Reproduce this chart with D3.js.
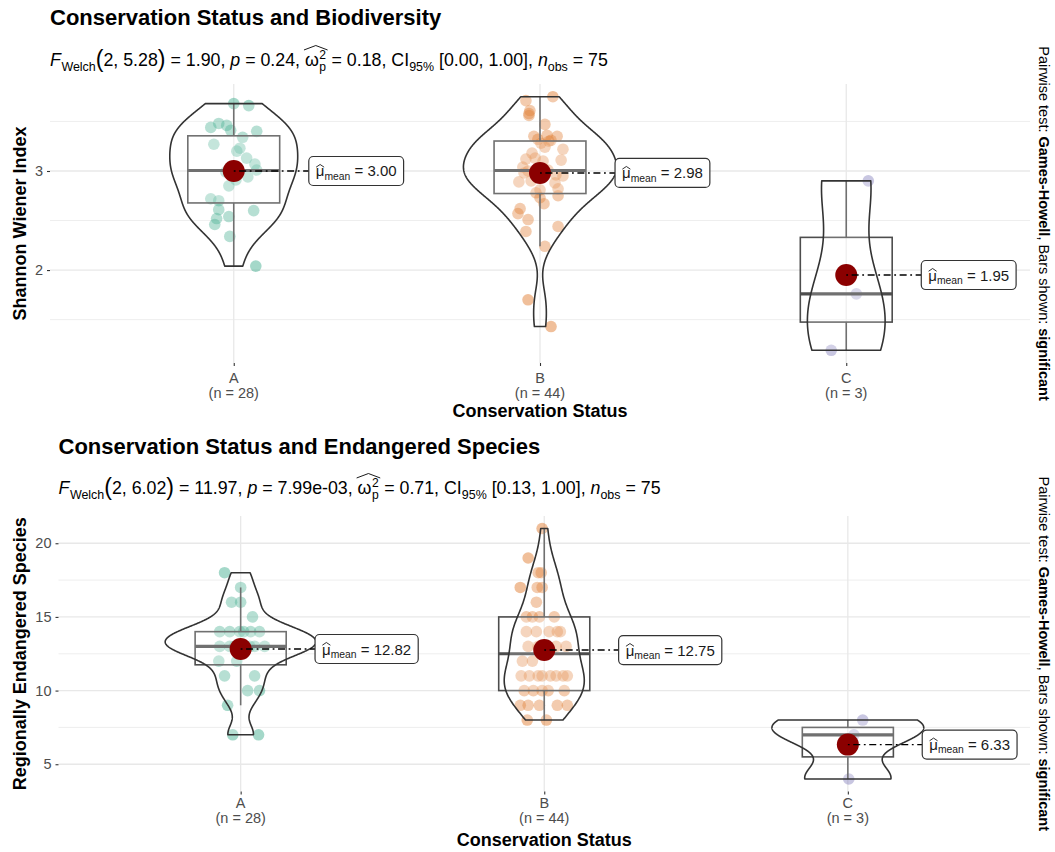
<!DOCTYPE html>
<html>
<head>
<meta charset="utf-8">
<script src="https://cdn.jsdelivr.net/npm/d3@7"></script>
<style>
  body { margin: 0; background: #fff; }
  svg { display: block; }
  text { font-family: "Liberation Sans", Arial, Helvetica, sans-serif; }
</style>
</head>
<body>
<svg id="chart" width="1055" height="852"></svg>
<script>
// ---------------------------------------------------------------------------
// Data
// ---------------------------------------------------------------------------
const categories = ["A", "B", "C"];
const groupSizes = [28, 44, 3];
const groupColors = ["#1B9E77", "#D95F02", "#7570B3"];

// Shannon Wiener index per site, by conservation status
const shannonA = [3.68, 3.66, 3.44, 3.48, 3.46, 3.40, 3.34, 3.27, 3.23, 3.13, 3.07, 3.01, 2.94, 2.91,
                  2.85, 2.72, 2.70, 2.61, 2.54, 2.52, 2.46, 2.60, 2.34, 2.04, 3.00, 2.99, 3.20, 3.41];
const shannonB = [3.71, 3.75, 3.58, 3.61, 3.56, 3.47, 3.35, 3.36, 3.35, 3.31, 3.28, 3.22, 3.24, 3.12,
                  3.11, 3.13, 3.04, 2.96, 2.95, 2.89, 2.90, 2.88, 2.82, 2.75, 2.81, 2.73, 2.67, 2.62,
                  2.57, 2.51, 2.39, 2.44, 2.24, 1.70, 1.43, 3.00, 3.01, 3.00, 2.98, 3.18, 3.30, 3.10,
                  2.78, 3.32];
const shannonC = [2.90, 1.76, 1.19];

// Regionally endangered species per site, by conservation status
const endangeredA = [18, 17, 16, 16, 15, 14, 14, 14, 14, 14, 13, 13, 13, 12, 12, 11, 11, 10, 10, 9,
                     7, 7, 13, 13, 14, 13, 13, 13];
const endangeredB = [21, 19, 18, 18, 17, 17, 17, 16, 15, 15, 14, 14, 14, 14, 13, 12, 12, 11, 11, 11,
                     11, 11, 10, 10, 9, 9, 9, 9, 9, 8, 8, 10, 10, 10, 11, 11, 11, 13, 13, 13, 13,
                     14, 15, 15];
const endangeredC = [8, 7, 4];

// Horizontal jitter of each observation, in category units
const shannonJitterA = [0, 0.049, -0.075, -0.049, -0.023, 0.075, 0.029, -0.065, 0.020, 0.042, 0.069,
                        0.075, 0.046, 0.007, -0.016, -0.075, -0.049, -0.049, -0.016, -0.056, -0.062,
                        0.065, -0.013, 0.072, 0.016, -0.026, 0.010, -0.010];
const shannonJitterB = [-0.046, 0.042, -0.036, -0.033, -0.036, 0.016, -0.020, 0.023, 0.056, 0.036,
                        0.003, 0.075, 0.016, -0.046, 0.069, -0.016, -0.056, 0.052, 0.075, -0.069,
                        -0.029, 0.049, 0.059, 0.059, 0, 0, 0.013, -0.065, -0.072, -0.039, -0.046,
                        0.059, 0.016, -0.039, 0.036, -0.010, 0.026, -0.039, -0.052, -0.026, 0.029,
                        0.010, -0.013, -0.007];
const shannonJitterC = [0.072, 0.033, -0.049];
const endangeredJitterA = [-0.053, 0, -0.030, 0, 0.039, -0.069, -0.036, -0.003, 0.033, 0.062, -0.069,
                           -0.036, 0.079, -0.072, -0.013, -0.053, 0.046, 0.023, 0.062, -0.043, -0.026,
                           0.059, 0.016, -0.010, 0.010, 0.046, -0.020, 0.030];
const endangeredJitterB = [-0.007, -0.053, -0.020, -0.010, -0.079, -0.023, -0.007, -0.026, -0.059,
                           -0.016, -0.059, -0.026, 0.043, 0.053, -0.053, -0.072, -0.039, -0.076,
                           -0.049, -0.020, 0.062, 0.076, -0.036, 0.013, -0.079, -0.053, -0.016, 0.043,
                           0.076, -0.056, 0.007, 0.066, -0.066, -0.007, 0.020, -0.007, 0.039, 0.007,
                           0.039, -0.020, 0.072, 0.016, 0.033, -0.039];
const endangeredJitterC = [0.049, 0.020, 0.003];

// Axis ticks
const shannonTicks = [2, 3];
const shannonMinorTicks = [1.5, 2.5, 3.5];
const endangeredTicks = [5, 10, 15, 20];
const endangeredMinorTicks = [7.5, 12.5, 17.5];

// Welch ANOVA results shown in the subtitles: [df1, df2, F, p, omega², CI low, CI high, n]
const shannonWelch = ["2", "5.28", "1.90", "0.24", "0.18", "0.00", "1.00", "75"];
const endangeredWelch = ["2", "6.02", "11.97", "7.99e-03", "0.71", "0.13", "1.00", "75"];

// ---------------------------------------------------------------------------
// Helpers
// ---------------------------------------------------------------------------
const svg = d3.select("#chart");
const NBSP = "\u00A0";

function boxStats(vals) {
  const s = vals.slice().sort(d3.ascending);
  const q1 = d3.quantileSorted(s, 0.25);
  const med = d3.quantileSorted(s, 0.5);
  const q3 = d3.quantileSorted(s, 0.75);
  const iqr = q3 - q1;
  const lo = d3.min(s.filter(v => v >= q1 - 1.5 * iqr));
  const hi = d3.max(s.filter(v => v <= q3 + 1.5 * iqr));
  return { q1, med, q3, lo, hi };
}

// Silverman's rule of thumb (R's bw.nrd0)
function bwNrd0(vals) {
  const s = vals.slice().sort(d3.ascending);
  const sd = d3.deviation(s);
  const iqr = d3.quantileSorted(s, 0.75) - d3.quantileSorted(s, 0.25);
  let lo = Math.min(sd, iqr / 1.34);
  if (!(lo > 0)) lo = sd || Math.abs(s[0]) || 1;
  return 0.9 * lo * Math.pow(s.length, -0.2);
}

// Gaussian kernel density, trimmed to the data range
function density(vals, n = 400) {
  const bw = bwNrd0(vals);
  const [lo, hi] = d3.extent(vals);
  const k = 1 / (vals.length * bw * Math.sqrt(2 * Math.PI));
  return d3.range(n).map(i => {
    const y = lo + (hi - lo) * i / (n - 1);
    let d = 0;
    for (const v of vals) { const z = (y - v) / bw; d += Math.exp(-0.5 * z * z); }
    return [y, d * k];
  });
}

// Lays out a run of text pieces left to right (italic, sub/superscripts, hats)
function richText(g, x, y, parts, size, color) {
  let cx = x;
  let hatX = null;
  parts.forEach(p => {
    if (p.hatStart) { hatX = cx; return; }
    if (p.hatEnd) {
      const h = p.hat;
      const x0 = hatX + h.inset, x1 = cx - h.inset;
      g.append("path")
        .attr("d", `M${x0},${y - h.base * size} L${(x0 + x1) / 2},${y - h.apex * size} L${x1},${y - h.base * size}`)
        .attr("fill", "none").attr("stroke", color).attr("stroke-width", 0.9);
      return;
    }
    if (p.stack) {
      const fs = size * 0.68;
      const a = g.append("text").attr("x", cx + 0.5).attr("y", y - size * 0.42)
        .attr("font-size", fs).attr("fill", color).text(p.stack[0]);
      const b = g.append("text").attr("x", cx + 0.5).attr("y", y + size * 0.3)
        .attr("font-size", fs).attr("fill", color).text(p.stack[1]);
      cx += Math.max(a.node().getComputedTextLength(), b.node().getComputedTextLength()) + 1;
      return;
    }
    const fs = size * (p.scale || 1);
    const t = g.append("text")
      .attr("x", cx).attr("y", y + (p.dy || 0) * size)
      .attr("font-size", fs)
      .attr("font-style", p.italic ? "italic" : null)
      .attr("font-weight", p.bold ? "bold" : null)
      .attr("fill", color)
      .text(p.t.replace(/ /g, NBSP));
    cx += t.node().getComputedTextLength() + (p.after || 0);
  });
  return cx - x;
}

function welchParts(w) {
  const omegaHat = { base: 0.9, apex: 1.15, inset: -1 };
  return [
    { t: "F", italic: true, after: 0.5 },
    { t: "Welch", scale: 0.7, dy: 0.3 },
    { t: "(", scale: 1.3, dy: 0.07 },
    { t: `${w[0]}, ${w[1]}` },
    { t: ")", scale: 1.3, dy: 0.07 },
    { t: ` = ${w[2]}, ` },
    { t: "p", italic: true },
    { t: ` = ${w[3]}, ` },
    { hatStart: true },
    { t: "\u03C9" },
    { stack: ["2", "p"] },
    { hatEnd: true, hat: omegaHat },
    { t: ` = ${w[4]}, CI` },
    { t: "95%", scale: 0.7, dy: 0.3 },
    { t: ` [${w[5]}, ${w[6]}], ` },
    { t: "n", italic: true },
    { t: "obs", scale: 0.7, dy: 0.3 },
    { t: ` = ${w[7]}` }
  ];
}

// ---------------------------------------------------------------------------
// One ggbetweenstats-style panel
// ---------------------------------------------------------------------------
function drawPanel(cfg) {
  const { frame, groups, jitters } = cfg;
  const g = svg.append("g");

  const x = d3.scalePoint().domain(categories).range([frame.x0, frame.x1]).padding(0.6);
  const step = x.step();
  const all = groups.flat();
  const [mn, mx] = d3.extent(all);
  const pad = (mx - mn) * 0.05;
  const y = d3.scaleLinear().domain([mn - pad, mx + pad]).range([frame.y1, frame.y0]);

  // Grid
  const grid = g.append("g");
  grid.selectAll(".minor").data(cfg.minorTicks).join("line")
    .attr("x1", frame.x0).attr("x2", frame.x1)
    .attr("y1", d => y(d)).attr("y2", d => y(d))
    .attr("stroke", "#ececec").attr("stroke-width", 0.9);
  grid.selectAll(".major").data(cfg.ticks).join("line")
    .attr("x1", frame.x0).attr("x2", frame.x1)
    .attr("y1", d => y(d)).attr("y2", d => y(d))
    .attr("stroke", "#e8e8e8").attr("stroke-width", 1.3);
  grid.selectAll(".vmajor").data(categories).join("line")
    .attr("x1", d => x(d)).attr("x2", d => x(d))
    .attr("y1", frame.y0).attr("y2", frame.y1)
    .attr("stroke", "#e8e8e8").attr("stroke-width", 1.3);

  // Y axis
  const yAxis = g.append("g").attr("transform", `translate(${frame.x0},0)`)
    .call(d3.axisLeft(y).tickValues(cfg.ticks).tickSize(3).tickPadding(4).tickFormat(d3.format("d")));
  yAxis.select(".domain").remove();
  yAxis.selectAll("line").attr("stroke", "#333").attr("stroke-width", 1.1);
  yAxis.selectAll("text").attr("font-size", 14.5).attr("fill", "#4d4d4d")
    .attr("font-family", '"Liberation Sans", Arial, sans-serif');

  // X axis with group sizes
  const xAxis = g.append("g").attr("transform", `translate(0,${frame.y1})`)
    .call(d3.axisBottom(x).tickSize(3).tickFormat(""));
  xAxis.select(".domain").remove();
  xAxis.selectAll("line").attr("stroke", "#333").attr("stroke-width", 1.1);
  const xl = g.append("g");
  categories.forEach((c, i) => {
    xl.append("text").attr("x", x(c)).attr("y", frame.y1 + cfg.tickLabelY[0]).attr("text-anchor", "middle")
      .attr("font-size", 14.5).attr("fill", "#4d4d4d").text(c);
    xl.append("text").attr("x", x(c)).attr("y", frame.y1 + cfg.tickLabelY[1]).attr("text-anchor", "middle")
      .attr("font-size", 14.5).attr("fill", "#4d4d4d").text(`(n = ${groupSizes[i]})`);
  });

  // Axis titles
  g.append("text").attr("x", (frame.x0 + frame.x1) / 2).attr("y", frame.y1 + 54)
    .attr("text-anchor", "middle").attr("font-size", 18).attr("font-weight", "bold")
    .text("Conservation Status");
  g.append("text")
    .attr("transform", `translate(26,${(frame.y0 + frame.y1) / 2}) rotate(-90)`)
    .attr("text-anchor", "middle").attr("font-size", 18).attr("font-weight", "bold")
    .text(cfg.yTitle);

  // Title and subtitle
  g.append("text").attr("x", frame.x0).attr("y", cfg.titleY)
    .attr("font-size", 22).attr("font-weight", "bold").text(cfg.title);
  richText(g.append("g"), frame.x0, cfg.subtitleY, welchParts(cfg.welch), 17.8, "#000");

  // Pairwise caption on the right
  const cap = g.append("text")
    .attr("transform", `translate(1039,${(frame.y0 + frame.y1) / 2}) rotate(90)`)
    .attr("text-anchor", "middle").attr("font-size", 14.5);
  cap.append("tspan").text("Pairwise test: ");
  cap.append("tspan").attr("font-weight", "bold").text("Games-Howell");
  cap.append("tspan").text(", Bars shown: ");
  cap.append("tspan").attr("font-weight", "bold").text("significant");

  // Jittered observations
  const pts = g.append("g");
  groups.forEach((vals, gi) => {
    const cx = x(categories[gi]);
    pts.selectAll(null).data(vals.map((v, i) => [v, jitters[gi][i]])).join("circle")
      .attr("cx", d => cx + d[1] * step)
      .attr("cy", d => y(d[0]))
      .attr("r", 5.8)
      .attr("fill", groupColors[gi])
      .attr("fill-opacity", 0.4);
  });

  // Boxplots
  const bw = 0.3 * step;
  const boxes = g.append("g");
  groups.forEach((vals, gi) => {
    const cx = x(categories[gi]);
    const s = boxStats(vals);
    const b = boxes.append("g").attr("stroke", "#4d4d4d").attr("fill", "none");
    b.append("line").attr("x1", cx).attr("x2", cx).attr("y1", y(s.hi)).attr("y2", y(s.q3)).attr("stroke-width", 1.6);
    b.append("line").attr("x1", cx).attr("x2", cx).attr("y1", y(s.q1)).attr("y2", y(s.lo)).attr("stroke-width", 1.6);
    b.append("rect").attr("x", cx - bw / 2).attr("width", bw)
      .attr("y", y(s.q3)).attr("height", y(s.q1) - y(s.q3))
      .attr("fill", "#fff").attr("fill-opacity", 0.2).attr("stroke-width", 1.6);
    b.append("line").attr("x1", cx - bw / 2).attr("x2", cx + bw / 2)
      .attr("y1", y(s.med)).attr("y2", y(s.med)).attr("stroke-width", 3.2);
  });

  // Violins (area-scaled across the panel)
  const dens = groups.map(v => density(v));
  const maxD = d3.max(dens.flat(), d => d[1]);
  const hw = 0.25 * step;
  const vio = g.append("g");
  dens.forEach((dd, gi) => {
    const cx = x(categories[gi]);
    const area = d3.area()
      .x0(d => cx - hw * d[1] / maxD)
      .x1(d => cx + hw * d[1] / maxD)
      .y(d => y(d[0]));
    vio.append("path").attr("d", area(dd))
      .attr("fill", "#fff").attr("fill-opacity", 0.2)
      .attr("stroke", "#333").attr("stroke-width", 1.6).attr("stroke-linejoin", "round");
  });

  // Means with labels
  const means = g.append("g");
  groups.forEach((vals, gi) => {
    const cx = x(categories[gi]);
    const m = d3.mean(vals);
    const my = y(m);
    const lx = cx + 0.245 * step;
    means.append("circle").attr("cx", cx).attr("cy", my).attr("r", 11).attr("fill", "#8B0000");
    means.append("line").attr("x1", cx).attr("x2", lx).attr("y1", my).attr("y2", my)
      .attr("stroke", "#000").attr("stroke-width", 1.4).attr("stroke-dasharray", "1.8,3.6,7,3.6");

    const lab = means.append("g");
    const rect = lab.append("rect");
    const tg = lab.append("g");
    const muHat = { base: 0.62, apex: 0.8, inset: 0.3 };
    const w = richText(tg, lx + 7, my + 5.5, [
      { hatStart: true },
      { t: "\u03BC" },
      { hatEnd: true, hat: muHat },
      { t: "mean", scale: 0.69, dy: 0.22 },
      { t: ` = ${m.toFixed(2)}` }
    ], 15, "#1a1a1a");
    rect.attr("x", lx).attr("y", my - 14.5).attr("width", w + 14).attr("height", 29)
      .attr("rx", 4.5).attr("fill", "#fff").attr("stroke", "#333").attr("stroke-width", 1.2);
  });
}

drawPanel({
  title: "Conservation Status and Biodiversity",
  yTitle: "Shannon Wiener Index",
  welch: shannonWelch,
  groups: [shannonA, shannonB, shannonC],
  jitters: [shannonJitterA, shannonJitterB, shannonJitterC],
  ticks: shannonTicks,
  minorTicks: shannonMinorTicks,
  frame: { x0: 50, x1: 1030, y0: 84, y1: 363 },
  titleY: 25, subtitleY: 66, tickLabelY: [20, 35]
});

drawPanel({
  title: "Conservation Status and Endangered Species",
  yTitle: "Regionally Endangered Species",
  welch: endangeredWelch,
  groups: [endangeredA, endangeredB, endangeredC],
  jitters: [endangeredJitterA, endangeredJitterB, endangeredJitterC],
  ticks: endangeredTicks,
  minorTicks: endangeredMinorTicks,
  frame: { x0: 58.5, x1: 1030, y0: 516, y1: 791.5 },
  titleY: 454, subtitleY: 494, tickLabelY: [16, 31]
});
</script>
</body>
</html>
